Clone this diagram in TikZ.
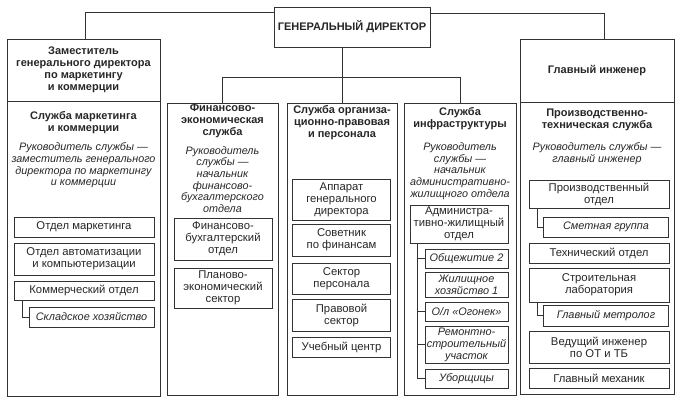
\documentclass[tikz,border=0pt]{standalone}
\usepackage{fontspec}
\setmainfont{Liberation Sans}

\begin{document}
\begin{tikzpicture}[x=1pt,y=-1pt,line width=0.8pt,
	every node/.style={text=black!85, inner sep=1pt, align=center, font=\fontsize{11.3}{12}\selectfont},
	frame/.style={draw=black!80},
	unit/.style={draw=black!80},
	wide/.style={unit, minimum width=140pt},
	narrow/.style={unit, minimum width=98pt},
	subwide/.style={unit, minimum width=125pt, font=\itshape\fontsize{10.9}{12}\selectfont},
	subnarrow/.style={unit, minimum width=83pt, font=\itshape\fontsize{10.9}{12}\selectfont},
	head/.style={font=\bfseries\fontsize{11}{12}\selectfont},
	chief/.style={font=\itshape\fontsize{10.8}{11.6}\selectfont},
	link/.style={draw=black!80}]
	\useasboundingbox (0,0) rectangle (682,403);
	%\draw[help lines] (0,0) grid (682,403);
	\node[frame, head, minimum width=156pt, minimum height=40pt] (gd) at (352,27) {ГЕНЕРАЛЬНЫЙ ДИРЕКТОР};
	\node[frame, head, minimum width=153pt, minimum height=62pt] (zam) at (83.5,70) {Заместитель\\генерального директора\\по маркетингу\\и коммерции};
	\node[frame, minimum width=153pt, minimum height=295pt] (mark) at (83.5,248.5) {};
	\node[frame, head, minimum width=154pt, minimum height=63pt] (gi) at (597,70.5) {Главный инженер};
	\node[frame, minimum width=154pt, minimum height=292pt] (pts) at (597,248) {};
	\node[frame, minimum width=111pt, minimum height=292pt] (fin) at (222.5,249) {};
	\node[frame, minimum width=110pt, minimum height=292pt] (org) at (342,249) {};
	\node[frame, minimum width=112pt, minimum height=292pt] (infra) at (460,249) {};

	\node[head] (markh) at (83.5,122.5) {Служба маркетинга\\и коммерции};
	\node[chief] (markr) at (83.5,165.5) {Руководитель службы —\\заместитель генерального\\директора по маркетингу\\и коммерции};
	\node[head] (finh) at (222.5,121) {Финансово-\\экономическая\\служба};
	\node[chief] (finr) at (222.5,179.5) {Руководитель\\службы —\\начальник\\финансово-\\бухгалтерского\\отдела};
	\node[head] (orgh) at (342,123) {Служба организа-\\ционно-правовая\\и персонала};
	\node[head] (infrah) at (460,119) {Служба\\инфраструктуры};
	\node[chief] (infrar) at (460,171) {Руководитель\\службы —\\начальник\\административно-\\жилищного отдела};
	\node[head] (ptsh) at (597,119.5) {Производственно-\\техническая служба};
	\node[chief] (ptsr) at (597,153.5) {Руководитель службы —\\главный инженер};

	\node[wide, minimum height=20pt] (mkt) at (84,227) {Отдел маркетинга};
	\node[wide, minimum height=32pt] (auto) at (84,259) {Отдел автоматизации\\и компьютеризации};
	\node[wide, minimum height=19pt] (kom) at (84,290.5) {Коммерческий отдел};
	\node[subwide, minimum height=20pt] (sklad) at (91.5,317) {Складское хозяйство};

	\node[narrow, minimum height=42pt] (fb) at (223,239) {Финансово-\\бухгалтерский\\отдел};
	\node[narrow, minimum height=40pt] (pe) at (223,288) {Планово-\\экономический\\сектор};

	\node[narrow, minimum height=41pt] (app) at (341.5,199.5) {Аппарат\\генерального\\директора};
	\node[narrow, minimum height=32pt] (sov) at (341.5,240) {Советник\\по финансам};
	\node[narrow, minimum height=31pt] (sek) at (341.5,278.5) {Сектор\\персонала};
	\node[narrow, minimum height=32pt] (prav) at (341.5,315) {Правовой\\сектор};
	\node[narrow, minimum height=20pt] (ucheb) at (341.5,347) {Учебный центр};

	\node[narrow, minimum height=38pt] (adm) at (459,224) {Администра-\\тивно-жилищный\\отдел};
	\node[subnarrow, minimum height=19pt] (ob) at (466.5,258.5) {Общежитие 2};
	\node[subnarrow, minimum height=25pt] (zh) at (466.5,284.5) {Жилищное\\хозяйство 1};
	\node[subnarrow, minimum height=19pt] (ol) at (466.5,311.5) {О/л «Огонек»};
	\node[subnarrow, minimum height=37pt] (rem) at (466.5,344.5) {Ремонтно-\\строительный\\участок};
	\node[subnarrow, minimum height=19pt] (ub) at (466.5,378.5) {Уборщицы};

	\node[wide, minimum height=28pt] (po) at (599,194) {Производственный\\отдел};
	\node[subwide, minimum height=20pt] (smet) at (606,227) {Сметная группа};
	\node[wide, minimum height=20pt] (tech) at (599,253) {Технический отдел};
	\node[wide, minimum height=34pt] (lab) at (599,285) {Строительная\\лаборатория};
	\node[subwide, minimum height=21pt] (metr) at (606,315.5) {Главный метролог};
	\node[wide, minimum height=32pt] (ved) at (599,347) {Ведущий инженер\\по ОТ и ТБ};
	\node[wide, minimum height=20pt] (meh) at (599,378) {Главный механик};

	\coordinate (bus) at (0,77);
	\draw[link] ([yshift=-6pt]gd.north west) -| ([xshift=2pt]zam.north);
	\draw[link] ([yshift=-7pt]gd.north east) -| ([xshift=7pt]gi.north);
	\draw[link] (gd.south -| org.north) -- (org.north);
	\draw[link] (fin.north) -- (fin.north |- bus) -- (infra.north |- bus) -- (infra.north);
	\draw[link] ([xshift=9pt]kom.south west) |- (sklad.west);
	\draw[link] ([xshift=9pt]po.south west) |- (smet.west);
	\draw[link] ([xshift=9pt]lab.south west) |- (metr.west);
	\foreach \n in {ob,ol,rem,ub}
		\draw[link] ([xshift=8pt]adm.south west) |- (\n.west);
\end{tikzpicture}
\end{document}
